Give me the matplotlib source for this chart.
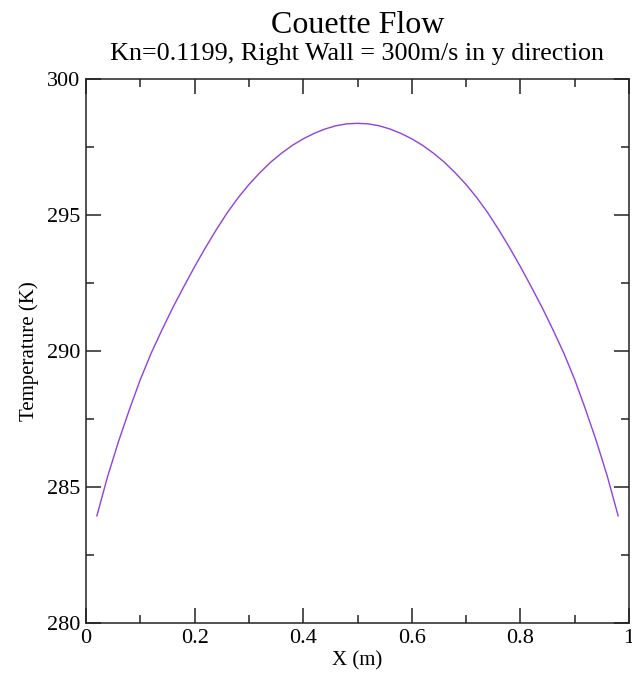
import numpy as np
import matplotlib
matplotlib.use("Agg")
import matplotlib.pyplot as plt
from matplotlib.ticker import MultipleLocator, FormatStrFormatter

# data
x_pos = [0.02, 0.04, 0.06, 0.08, 0.10, 0.12, 0.14, 0.16, 0.18, 0.20, 0.22, 0.24,
         0.26, 0.28, 0.30, 0.32, 0.34, 0.36, 0.38, 0.40, 0.42, 0.44, 0.46, 0.48,
         0.50,
         0.52, 0.54, 0.56, 0.58, 0.60, 0.62, 0.64, 0.66, 0.68, 0.70, 0.72, 0.74,
         0.76, 0.78, 0.80, 0.82, 0.84, 0.86, 0.88, 0.90, 0.92, 0.94, 0.96, 0.98]
temperature = [283.94, 285.40, 286.68, 287.85, 288.95, 289.92, 290.78, 291.60,
               292.36, 293.10, 293.80, 294.46, 295.08, 295.63, 296.12, 296.55,
               296.94, 297.27, 297.56, 297.80, 298.00, 298.16, 298.28, 298.35,
               298.37,
               298.35, 298.28, 298.16, 298.00, 297.80, 297.56, 297.27, 296.94,
               296.55, 296.12, 295.63, 295.08, 294.46, 293.80, 293.10, 292.36,
               291.60, 290.78, 289.92, 288.95, 287.85, 286.68, 285.40, 283.94]

title = "Couette Flow"
subtitle = "Kn=0.1199, Right Wall = 300m/s in y direction"

plt.rcParams['font.family'] = ['Liberation Serif', 'DejaVu Serif']

W, H = 632, 674
fig = plt.figure(figsize=(W / 100, H / 100), dpi=100)
ax = fig.add_axes([86 / W, 1 - 623 / H, 543 / W, 544 / H])

ax.plot(x_pos, temperature, color='#9040e0', lw=1.0)

ax.set_xlim(0, 1)
ax.set_ylim(280, 300)
ax.xaxis.set_major_locator(MultipleLocator(0.2))
ax.xaxis.set_minor_locator(MultipleLocator(0.1))
ax.yaxis.set_major_locator(MultipleLocator(5))
ax.yaxis.set_minor_locator(MultipleLocator(2.5))
ax.xaxis.set_major_formatter(FormatStrFormatter('%g'))
ax.yaxis.set_major_formatter(FormatStrFormatter('%g'))

ax.tick_params(which='both', direction='in', top=True, right=True,
               width=1.1, color='#222222', labelsize=16, pad=4)
ax.tick_params(which='major', length=10.8)
ax.tick_params(which='minor', length=5.8)
for s in ax.spines.values():
    s.set_linewidth(1.1)
    s.set_color('#222222')

ax.set_xlabel("X (m)", fontsize=15, va='center')
ax.set_ylabel("Temperature (K)", fontsize=15, va='center')
ax.xaxis.set_label_coords(0.5, -(661 - 623) / 544)
ax.yaxis.set_label_coords(-(86 - 29) / 543, 0.5)

cx = (86 + 629) / 2 / W
fig.text(cx, 1 - 33 / H, title, ha='center', va='baseline', fontsize=23)
fig.text(cx, 1 - 60 / H, subtitle, ha='center', va='baseline', fontsize=18.8)

fig.savefig("out.png", dpi=100)
